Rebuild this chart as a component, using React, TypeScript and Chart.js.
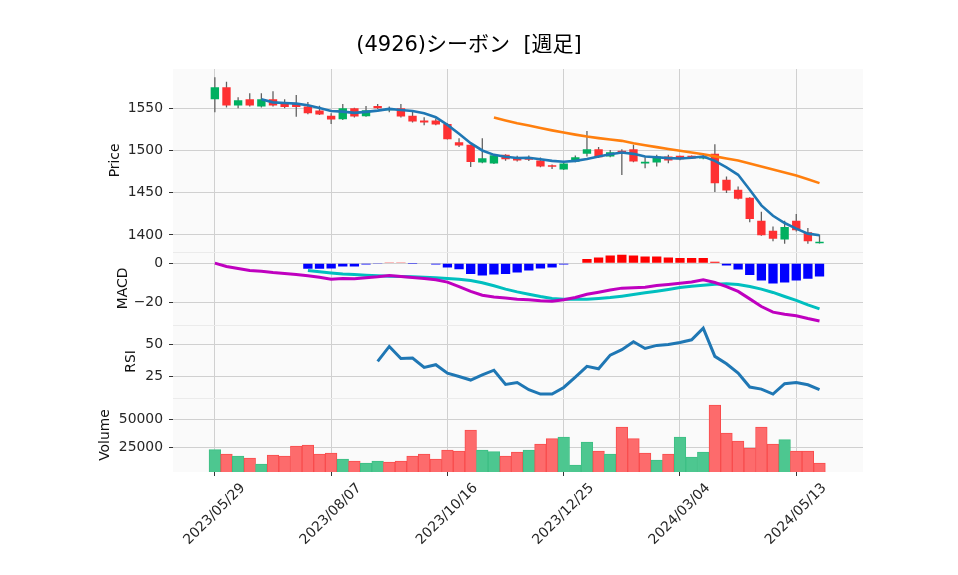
import React, { useEffect, useRef } from 'react';
import { Chart, registerables } from 'chart.js';

Chart.register(...registerables);

const TITLE = '(4926)シーボン  [週足]';

const DATES = [
  '2023/05/29', '2023/06/05', '2023/06/12', '2023/06/19', '2023/06/26', '2023/07/03', '2023/07/10', '2023/07/17', '2023/07/24', '2023/07/31',
  '2023/08/07', '2023/08/14', '2023/08/21', '2023/08/28', '2023/09/04', '2023/09/11', '2023/09/18', '2023/09/25', '2023/10/02', '2023/10/09',
  '2023/10/16', '2023/10/23', '2023/10/30', '2023/11/06', '2023/11/13', '2023/11/20', '2023/11/27', '2023/12/04', '2023/12/11', '2023/12/18',
  '2023/12/25', '2024/01/01', '2024/01/08', '2024/01/15', '2024/01/22', '2024/01/29', '2024/02/05', '2024/02/12', '2024/02/19', '2024/02/26',
  '2024/03/04', '2024/03/11', '2024/03/18', '2024/03/25', '2024/04/01', '2024/04/08', '2024/04/15', '2024/04/22', '2024/04/29', '2024/05/06',
  '2024/05/13', '2024/05/20', '2024/05/27',
];

const OPEN = [
  1560.6, 1574.8, 1553.2, 1560.6, 1552.0, 1560.6, 1555.0, 1555.0, 1552.0, 1547.2,
  1541.0, 1537.0, 1550.0, 1540.5, 1552.8, 1547.6, 1550.0, 1541.0, 1535.4, 1535.4,
  1531.5, 1509.8, 1506.7, 1485.8, 1484.6, 1494.8, 1491.7, 1492.0, 1488.0, 1481.8,
  1477.5, 1486.6, 1496.0, 1501.5, 1493.0, 1499.6, 1501.5, 1484.6, 1485.8, 1492.9,
  1493.7, 1493.7, 1490.5, 1496.0, 1465.3, 1453.5, 1444.0, 1416.8, 1405.0, 1394.4,
  1416.8, 1403.0, 1390.0,
];
const HIGH = [
  1586.6, 1581.5, 1563.0, 1567.7, 1567.7, 1570.0, 1560.6, 1565.8, 1557.5, 1553.0,
  1544.0, 1555.0, 1550.5, 1552.8, 1555.0, 1552.0, 1555.0, 1548.0, 1539.4, 1538.0,
  1532.3, 1514.5, 1506.7, 1514.5, 1495.0, 1495.5, 1493.7, 1494.0, 1491.7, 1483.4,
  1486.0, 1494.0, 1523.0, 1504.0, 1500.7, 1501.5, 1506.7, 1492.0, 1494.8, 1494.8,
  1493.7, 1494.0, 1494.5, 1507.4, 1469.2, 1457.4, 1444.5, 1427.5, 1410.0, 1416.8,
  1424.7, 1408.2, 1400.3,
];
const LOW = [
  1545.3, 1551.0, 1550.0, 1552.0, 1551.0, 1552.0, 1550.0, 1540.0, 1543.0, 1542.0,
  1531.5, 1536.0, 1539.0, 1540.0, 1549.0, 1545.3, 1539.0, 1533.0, 1530.0, 1530.0,
  1513.0, 1504.0, 1480.3, 1485.0, 1484.0, 1487.7, 1487.0, 1487.5, 1480.0, 1478.0,
  1477.0, 1486.0, 1493.0, 1491.0, 1492.0, 1470.8, 1486.0, 1479.0, 1481.0, 1485.0,
  1488.5, 1490.0, 1489.5, 1450.7, 1449.5, 1442.0, 1415.0, 1399.0, 1392.4, 1389.6,
  1404.0, 1389.6, 1389.8,
];
const CLOSE = [
  1574.8, 1553.2, 1559.5, 1553.2, 1560.6, 1553.2, 1551.6, 1551.5, 1544.1, 1542.5,
  1536.6, 1550.0, 1540.1, 1547.6, 1550.0, 1549.6, 1540.1, 1534.2, 1533.0, 1530.7,
  1513.4, 1505.9, 1486.2, 1490.9, 1494.4, 1489.7, 1488.1, 1489.0, 1481.0, 1480.7,
  1484.6, 1492.0, 1501.5, 1492.0, 1498.0, 1497.6, 1487.0, 1486.6, 1492.9, 1488.1,
  1489.7, 1490.5, 1493.0, 1461.3, 1452.7, 1442.8, 1418.8, 1399.5, 1395.5, 1409.3,
  1405.4, 1392.5, 1392.0,
];

const VOLUME = [
  22620, 18750, 16970, 15180, 9820, 17860, 16970, 25900, 26790, 18750,
  19640, 14290, 12500, 10720, 12500, 11610, 12500, 16970, 18750, 14290,
  22320, 21430, 40180, 22320, 20830, 16970, 20540, 22320, 27680, 32440,
  33930, 8930, 29470, 21430, 18750, 42860, 32440, 19640, 13390, 18750,
  33930, 16070, 20540, 62500, 37500, 30360, 24110, 42860, 27680, 31550,
  21430, 21430, 10720,
];

const MA_SHORT = [
  null, null, null, null, 1560.6, 1557.0, 1556.3, 1555.5, 1553.5, 1550.4,
  1546.8, 1546.0, 1544.5, 1545.7, 1547.2, 1549.2, 1548.0, 1546.8, 1544.1, 1539.4,
  1530.3, 1519.7, 1508.6, 1500.0, 1494.8, 1492.5, 1491.0, 1491.3, 1489.7, 1487.7,
  1486.6, 1487.7, 1490.0, 1492.9, 1495.6, 1497.6, 1496.0, 1492.9, 1492.0, 1490.9,
  1490.5, 1491.3, 1492.9, 1487.7, 1479.9, 1471.2, 1453.5, 1435.0, 1422.7, 1414.1,
  1407.4, 1401.5, 1399.5,
];
const MA_LONG = [
  null, null, null, null, null, null, null, null, null, null,
  null, null, null, null, null, null, null, null, null, null,
  null, null, null, null, 1539.0, 1535.5, 1532.3, 1529.5, 1526.5, 1523.8,
  1521.2, 1518.8, 1516.5, 1514.6, 1513.0, 1511.4, 1508.6, 1506.2, 1504.0, 1501.8,
  1499.6, 1497.6, 1495.6, 1493.0, 1490.5, 1488.1, 1484.5, 1481.0, 1477.5, 1474.0,
  1470.4, 1466.0, 1461.3,
];

const MACD = [
  0.0, -1.7, -2.7, -3.8, -4.1, -4.8, -5.3, -5.8, -6.5, -7.2,
  -8.2, -7.9, -8.0, -7.5, -7.0, -6.3, -6.8, -7.4, -7.9, -8.5,
  -9.7, -12.0, -14.5, -16.4, -17.3, -17.9, -18.5, -18.8, -19.3, -19.5,
  -18.8, -17.6, -15.9, -14.9, -13.8, -12.8, -12.6, -12.3, -11.5, -10.9,
  -10.3, -9.6, -8.5, -9.9, -12.0, -14.5, -18.3, -22.2, -25.1, -26.2,
  -27.0, -28.4, -29.6,
];
const SIGNAL = [
  null, null, null, null, null, null, null, null, -3.8, -4.4,
  -5.0, -5.5, -5.8, -6.2, -6.5, -6.7, -6.8, -7.0, -7.2, -7.5,
  -7.9, -8.2, -8.9, -10.0, -11.6, -13.3, -14.7, -15.9, -17.1, -18.1,
  -18.5, -18.5, -18.5, -18.1, -17.6, -16.9, -16.1, -15.2, -14.4, -13.5,
  -12.5, -11.8, -11.3, -10.8, -10.6, -10.9, -12.0, -13.3, -15.0, -17.1,
  -19.1, -21.4, -23.4,
];
const HIST = [
  null, null, null, null, null, null, null, null, -2.9, -2.9,
  -2.7, -1.7, -1.7, -0.7, -0.2, 0.4, 0.4, -0.1, -0.3, -0.7,
  -2.2, -3.1, -5.5, -6.3, -5.8, -5.5, -4.8, -3.8, -2.7, -2.2,
  -0.7, 0.0, 2.2, 2.9, 3.9, 4.3, 3.9, 3.4, 3.4, 2.9,
  2.7, 2.7, 2.7, 0.7, -1.2, -3.2, -6.0, -8.9, -10.4, -9.9,
  -8.9, -8.0, -6.8,
];
const RSI = [
  null, null, null, null, null, null, null, null, null, null,
  null, null, null, null, 36.5, 48.2, 38.8, 39.1, 31.8, 33.9,
  27.3, 24.7, 21.9, 25.9, 29.6, 18.5, 20.0, 14.3, 10.9, 10.9,
  16.1, 24.2, 32.6, 30.7, 41.4, 45.6, 51.8, 46.6, 49.0, 49.7,
  51.3, 53.4, 62.5, 40.4, 34.6, 27.3, 16.4, 14.8, 10.9, 19.0,
  20.0, 18.2, 14.3,
];

const X_TICKS = [0, 10, 20, 30, 40, 50];
const PRICE_TICKS = [1400, 1450, 1500, 1550];
const MACD_TICKS = [-20, 0];
const RSI_TICKS = [25, 50];
const VOLUME_TICKS = [25000, 50000];

const FONT = "'DejaVu Sans', 'Noto Sans CJK JP', sans-serif";
const TICK_COLOR = '#262626';
const GRID = '#d0d0d0';

const pts = (arr: (number | null)[]) =>
  arr.map((v, i) => (v == null ? null : { x: i, y: v })).filter((p) => p !== null) as { x: number; y: number }[];

const fmt = (v: number) => (v < 0 ? '\u2212' + String(Math.abs(v)) : String(v));

const panelPlugin = {
  id: 'panelBg',
  beforeDraw(chart: any) {
    const { ctx, chartArea: a } = chart;
    ctx.save();
    ctx.fillStyle = '#fafafa';
    ctx.fillRect(a.left, a.top, a.right - a.left, a.bottom - a.top);
    ctx.restore();
  },
  beforeDatasetsDraw(chart: any) {
    const { ctx, chartArea: a } = chart;
    ctx.save();
    ctx.strokeStyle = '#ebebeb';
    ctx.lineWidth = 1;
    ['yM', 'yR', 'yV'].forEach((id) => {
      const s = chart.scales[id];
      const y = Math.round(s.top) + 0.5;
      ctx.beginPath();
      ctx.moveTo(a.left, y);
      ctx.lineTo(a.right, y);
      ctx.stroke();
    });
    ctx.restore();
  },
};

function yAxis(title: string, titlePad: number, weight: number, min: number, max: number, ticks: number[]) {
  return {
    type: 'linear',
    position: 'left',
    stack: 'panels',
    stackWeight: weight,
    min,
    max,
    afterBuildTicks: (s: any) => {
      s.ticks = ticks.map((v) => ({ value: v }));
    },
    afterFit: (s: any) => {
      s.width = 98;
    },
    ticks: {
      padding: 6,
      color: TICK_COLOR,
      font: { family: FONT, size: 13.9 },
      callback: (v: number) => fmt(v),
    },
    grid: { color: GRID, lineWidth: 1, tickLength: 4, tickColor: '#333', drawTicks: true },
    border: { display: false },
    title: {
      display: true,
      text: title,
      color: '#111',
      font: { family: FONT, size: 13.9 },
      padding: { top: titlePad, bottom: 0 },
    },
  };
}

export default function App() {
  const ref = useRef<HTMLCanvasElement | null>(null);

  useEffect(() => {
    if (!ref.current) return;
    const candleUp = CLOSE.map((c, i) => c >= OPEN[i]);
    const volUp = CLOSE.map((c, i) => (i === 0 ? c >= OPEN[0] : c >= CLOSE[i - 1]));
    const histPts = pts(HIST);

    const chart = new Chart(ref.current, {
      type: 'bar',
      data: {
        datasets: [
          {
            type: 'line', label: 'MA short', data: pts(MA_SHORT), yAxisID: 'yP',
            borderColor: '#1f77b4', borderWidth: 2.6, pointRadius: 0, tension: 0, order: 0,
          },
          {
            type: 'line', label: 'MA long', data: pts(MA_LONG), yAxisID: 'yP',
            borderColor: '#ff7f0e', borderWidth: 2.6, pointRadius: 0, tension: 0, order: 0,
          },
          {
            type: 'bar', label: 'body', data: OPEN.map((o, i) => ({ x: i, y: [o, CLOSE[i]] })), yAxisID: 'yP',
            backgroundColor: candleUp.map((u) => (u ? '#00b060' : '#fe3032')),
            borderWidth: 0, barPercentage: 0.72, categoryPercentage: 1, grouped: false, minBarLength: 1.5, order: 1,
          },
          {
            type: 'bar', label: 'wick', data: LOW.map((l, i) => ({ x: i, y: [l, HIGH[i]] })), yAxisID: 'yP',
            backgroundColor: '#606060', borderWidth: 0, barPercentage: 0.11, categoryPercentage: 1, grouped: false, order: 2,
          },
          {
            type: 'line', label: 'MACD', data: pts(MACD), yAxisID: 'yM',
            borderColor: '#bf00bf', borderWidth: 3, pointRadius: 0, tension: 0, order: 0,
          },
          {
            type: 'line', label: 'Signal', data: pts(SIGNAL), yAxisID: 'yM',
            borderColor: '#00bfbf', borderWidth: 3, pointRadius: 0, tension: 0, order: 0,
          },
          {
            type: 'bar', label: 'Hist', data: histPts, yAxisID: 'yM',
            backgroundColor: histPts.map((p) => (p.y >= 0 ? '#ff0000' : '#0000ff')),
            borderWidth: 0, barPercentage: 0.8, categoryPercentage: 1, grouped: false, order: 1,
          },
          {
            type: 'line', label: 'RSI', data: pts(RSI), yAxisID: 'yR',
            borderColor: '#1f77b4', borderWidth: 3, pointRadius: 0, tension: 0, order: 0,
          },
          {
            type: 'bar', label: 'Volume', data: VOLUME.map((v, i) => ({ x: i, y: v })), yAxisID: 'yV',
            backgroundColor: volUp.map((u) => (u ? '#4dc790' : '#fd6b6c')),
            borderColor: volUp.map((u) => (u ? '#3dbf84' : '#f94c4d')),
            borderWidth: 1, borderSkipped: false, barPercentage: 1, categoryPercentage: 1, grouped: false, order: 3,
          },
        ] as any,
      },
      options: {
        animation: false,
        responsive: false,
        devicePixelRatio: 1,
        layout: { padding: { left: 75, right: 95, top: 0, bottom: 0 } },
        plugins: {
          legend: { display: false },
          tooltip: { enabled: false },
          title: {
            display: true,
            text: TITLE,
            color: '#000',
            font: { family: FONT, size: 21, weight: 'normal' },
            padding: { top: 33.4, bottom: 10.4 },
          },
        },
        scales: {
          x: {
            type: 'linear',
            min: -3.6,
            max: 55.74,
            offset: false,
            afterBuildTicks: (s: any) => {
              s.ticks = X_TICKS.map((v) => ({ value: v }));
            },
            afterFit: (s: any) => {
              s.height = 103;
            },
            ticks: {
              autoSkip: false,
              minRotation: 45,
              maxRotation: 45,
              padding: 4,
              labelOffset: 28,
              color: TICK_COLOR,
              font: { family: FONT, size: 13.9 },
              callback: (v: number) => DATES[v] ?? '',
            },
            grid: { color: GRID, lineWidth: 1, tickLength: 4, tickColor: '#333', offset: false, drawTicks: true },
            border: { display: false },
          },
          yV: yAxis('Volume', 21.7, 74, 2680, 68750, VOLUME_TICKS),
          yR: yAxis('RSI', 47.7, 73.3, 7.8, 65.1, RSI_TICKS),
          yM: yAxis('MACD', 39.7, 73, -31.6, 5.8, MACD_TICKS),
          yP: yAxis('Price', 31.7, 183, 1379.9, 1596.5, PRICE_TICKS),
        } as any,
      },
      plugins: [panelPlugin],
    } as any);

    return () => chart.destroy();
  }, []);

  return (
    <div style={{ position: 'absolute', left: 0, top: 0, width: 958, height: 575, background: '#fff' }}>
      <canvas ref={ref} width={958} height={575} style={{ display: 'block', width: 958, height: 575 }} />
    </div>
  );
}
